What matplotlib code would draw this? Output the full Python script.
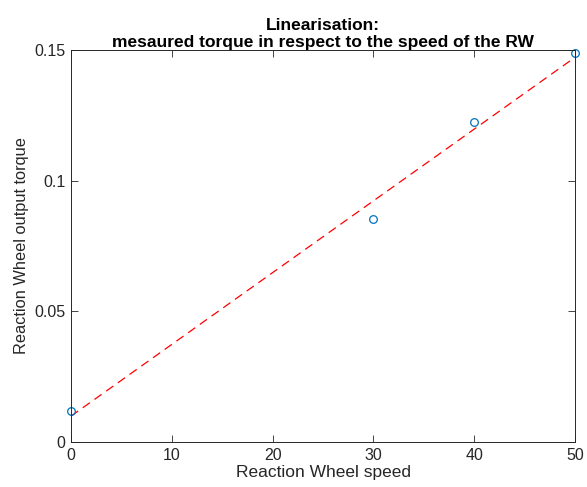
import matplotlib
matplotlib.use("Agg")
import matplotlib.pyplot as plt

plt.rcParams['font.family'] = ['Liberation Sans', 'DejaVu Sans']

# measured points
speed = [0, 30, 40, 50]
torque = [0.012, 0.0855, 0.1225, 0.149]

# linear fit line end points
fit_speed = [0, 50]
fit_torque = [0.0099, 0.1472]

fig = plt.figure(figsize=(5.87, 4.87), dpi=100)
ax = fig.add_axes([0.121, 0.0924, 0.8586, 0.8049])

ax.plot(fit_speed, fit_torque, color="red", linestyle=(0, (7, 4.5)), linewidth=0.9)
ax.plot(speed, torque, linestyle="none", marker="o", markersize=5.5,
        markerfacecolor="none", markeredgecolor="#0072BD", markeredgewidth=0.9,
        clip_on=False)

ax.set_xlim(0, 50)
ax.set_ylim(0, 0.15)
ax.set_xticks([0, 10, 20, 30, 40, 50])
ax.set_yticks([0, 0.05, 0.1, 0.15])
ax.set_yticklabels(["0", "0.05", "0.1", "0.15"])
ax.tick_params(direction="in", top=True, right=True, length=5, width=0.6,
               labelsize=11.5, colors="#262626", pad=4)
for s in ax.spines.values():
    s.set_linewidth(0.7)
    s.set_color("#262626")

ax.set_xlabel("Reaction Wheel speed", fontsize=12.5, color="#262626", labelpad=2)
ax.set_ylabel("Reaction Wheel output torque", fontsize=11.8, color="#262626", labelpad=4)
ax.set_title("Linearisation:\nmesaured torque in respect to the speed of the RW",
             fontsize=12.5, fontweight="bold", linespacing=1.1, pad=2.5)

fig.savefig("out.png", dpi=100, facecolor="white")
